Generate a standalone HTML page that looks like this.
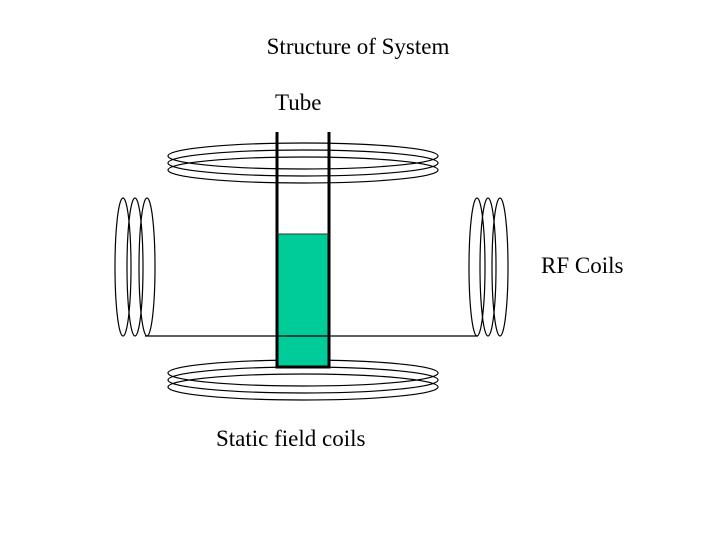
<!DOCTYPE html>
<html><head><style>
body{margin:0;background:#fff;width:720px;height:540px;overflow:hidden}
</style></head><body>
<svg width="720" height="540" xmlns="http://www.w3.org/2000/svg" font-family="Liberation Serif, serif" font-size="23">
<rect width="720" height="540" fill="#fff"/>
<text x="358" y="54" text-anchor="middle">Structure of System</text>
<text x="275" y="110">Tube</text>
<text x="541" y="273">RF Coils</text>
<text x="216" y="446">Static field coils</text>
<g fill="none" stroke="#000" stroke-width="1.2">
<ellipse cx="303" cy="156" rx="135" ry="13"/>
<ellipse cx="303" cy="163" rx="135" ry="13"/>
<ellipse cx="303" cy="170" rx="135" ry="13"/>
<ellipse cx="303" cy="373" rx="135" ry="13"/>
<ellipse cx="303" cy="380" rx="135" ry="13"/>
<ellipse cx="303" cy="387" rx="135" ry="13"/>
<ellipse cx="123" cy="267" rx="8" ry="69"/>
<ellipse cx="135" cy="267" rx="8" ry="69"/>
<ellipse cx="147" cy="267" rx="8" ry="69"/>
<ellipse cx="477" cy="267" rx="8" ry="69"/>
<ellipse cx="488" cy="267" rx="8" ry="69"/>
<ellipse cx="500" cy="267" rx="8" ry="69"/>
</g>
<rect x="277" y="234" width="52" height="133" fill="#00CC99"/>
<line x1="145" y1="336" x2="478" y2="336" stroke="#000" stroke-width="1.2"/>
<path d="M277 132 V367 H329 V132" fill="none" stroke="#000" stroke-width="3"/>
<line x1="277" y1="234" x2="329" y2="234" stroke="#333" stroke-width="1"/>
</svg>
</body></html>
